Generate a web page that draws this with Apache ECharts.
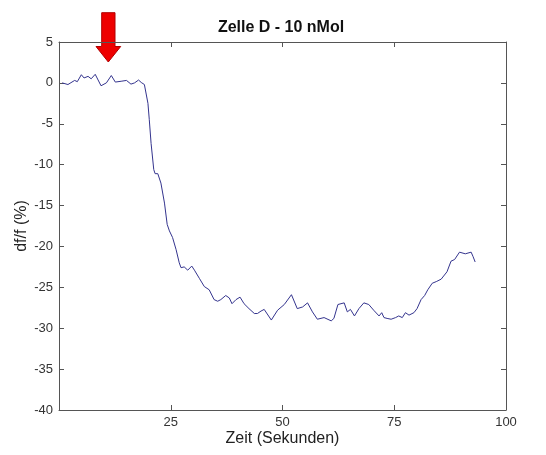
<!DOCTYPE html>
<html>
<head>
<meta charset="utf-8">
<script src="https://cdn.jsdelivr.net/npm/echarts@6/dist/echarts.min.js"></script>
<style>html,body{margin:0;padding:0;background:#fff}#c{width:546px;height:455px}</style>
</head>
<body>
<div id="c"></div>
<script>
var titleText = 'Zelle D - 10 nMol';
var xName = 'Zeit (Sekunden)';
var yName = 'df/f (%)';
var timeSec = [0.7,2.0,3.5,4.1,5.0,5.6,6.5,7.2,8.1,9.4,10.6,11.7,12.6,13.9,15.1,16.1,16.9,17.8,18.4,19.1,19.9,20.2,20.6,21.2,21.5,22.1,22.8,23.6,24.2,24.7,25.4,26.2,26.9,27.3,28.0,28.8,29.7,30.3,31.4,32.5,33.6,34.7,35.5,36.2,37.3,38.1,38.7,39.6,40.5,41.4,42.5,43.7,44.4,45.2,45.9,47.5,48.9,50.4,52.0,53.3,54.5,55.6,56.7,57.8,59.3,60.9,61.5,62.4,63.8,64.5,65.2,66.1,67.1,68.2,69.3,70.4,71.6,72.2,72.7,73.4,74.3,75.3,76.0,76.8,77.5,78.3,79.4,80.1,81.0,81.8,82.5,83.5,84.4,85.5,86.8,87.7,88.5,89.6,90.9,92.2,92.6,93.1];
var dff = [0,-0.2,0.3,0.15,1.0,0.6,0.8,0.5,1.05,-0.35,0,0.9,0.1,0.2,0.3,-0.15,0,0.35,0.05,-0.2,-2.5,-4.5,-7.4,-10.6,-11.1,-11.1,-12.25,-14.7,-17.3,-18.1,-18.9,-20.4,-22.0,-22.6,-22.5,-22.9,-22.4,-22.9,-23.9,-24.9,-25.3,-26.5,-26.7,-26.5,-26.0,-26.3,-27.0,-26.5,-26.2,-27.0,-27.6,-28.2,-28.2,-27.9,-27.7,-29.0,-27.8,-27.1,-25.9,-27.6,-27.4,-26.9,-28.0,-28.9,-28.7,-29.1,-28.8,-27.1,-26.9,-28.0,-27.7,-28.5,-27.6,-26.9,-27.1,-27.8,-28.5,-28.1,-28.7,-28.8,-28.9,-28.7,-28.5,-28.7,-28.1,-28.4,-28.1,-27.6,-26.5,-26.0,-25.3,-24.5,-24.3,-24.0,-23.1,-21.8,-21.6,-20.7,-20.9,-20.7,-21.2,-21.9];

var seriesData = timeSec.map(function(t, i){ return [t, dff[i]]; });
var fontFam = '"Liberation Sans", Arial, sans-serif';
var axisCol = '#555';
var chart = echarts.init(document.getElementById('c'), null, {renderer: 'canvas'});
chart.setOption({
  animation: false,
  backgroundColor: '#fff',
  title: {
    text: titleText, left: 276, top: 15, textAlign: 'center',
    textStyle: {fontFamily: fontFam, fontSize: 16, fontWeight: 'bold', color: '#111'}
  },
  grid: {left: 59, right: 40, top: 42, bottom: 45},
  xAxis: [{
    type: 'value', min: 0, max: 100, interval: 25,
    name: xName, nameLocation: 'middle', nameGap: 21, nameMoveOverlap: false,
    nameTextStyle: {fontFamily: fontFam, fontSize: 16, color: '#222'},
    axisLine: {show: true, onZero: false, lineStyle: {color: axisCol, width: 1}},
    axisTick: {show: true, inside: true, length: 5, lineStyle: {color: axisCol}},
    axisLabel: {showMinLabel: false, margin: 6, fontFamily: fontFam, fontSize: 13, color: '#333'},
    splitLine: {show: false}
  }, {
    type: 'value', min: 0, max: 100, interval: 25, position: 'top',
    axisLine: {show: true, onZero: false, lineStyle: {color: axisCol, width: 1}},
    axisTick: {show: true, inside: true, length: 5, lineStyle: {color: axisCol}},
    axisLabel: {show: false}, splitLine: {show: false}
  }],
  yAxis: [{
    type: 'value', min: -40, max: 5, interval: 5,
    name: yName, nameLocation: 'middle', nameGap: 29, nameRotate: 90, nameMoveOverlap: false,
    nameTextStyle: {fontFamily: fontFam, fontSize: 16, color: '#222'},
    axisLine: {show: true, onZero: false, lineStyle: {color: axisCol, width: 1}},
    axisTick: {show: true, inside: true, length: 5, lineStyle: {color: axisCol}},
    axisLabel: {margin: 6, fontFamily: fontFam, fontSize: 13, color: '#333'},
    splitLine: {show: false}
  }, {
    type: 'value', min: -40, max: 5, interval: 5, position: 'right',
    axisLine: {show: true, onZero: false, lineStyle: {color: axisCol, width: 1}},
    axisTick: {show: true, inside: true, length: 5, lineStyle: {color: axisCol}},
    axisLabel: {show: false}, splitLine: {show: false}
  }],
  series: [{
    type: 'line', xAxisIndex: 0, yAxisIndex: 0, data: seriesData,
    showSymbol: false, symbol: 'none',
    lineStyle: {color: '#34348e', width: 1}
  }],
  graphic: [{
    type: 'polygon',
    shape: {points: [[101.7,12.7],[115,12.7],[115,46.5],[120.7,46.5],[108.3,62],[96,46.5],[101.7,46.5]]},
    style: {fill: '#ee0000', stroke: '#b00000', lineWidth: 1}
  }]
});
</script>
</body>
</html>
